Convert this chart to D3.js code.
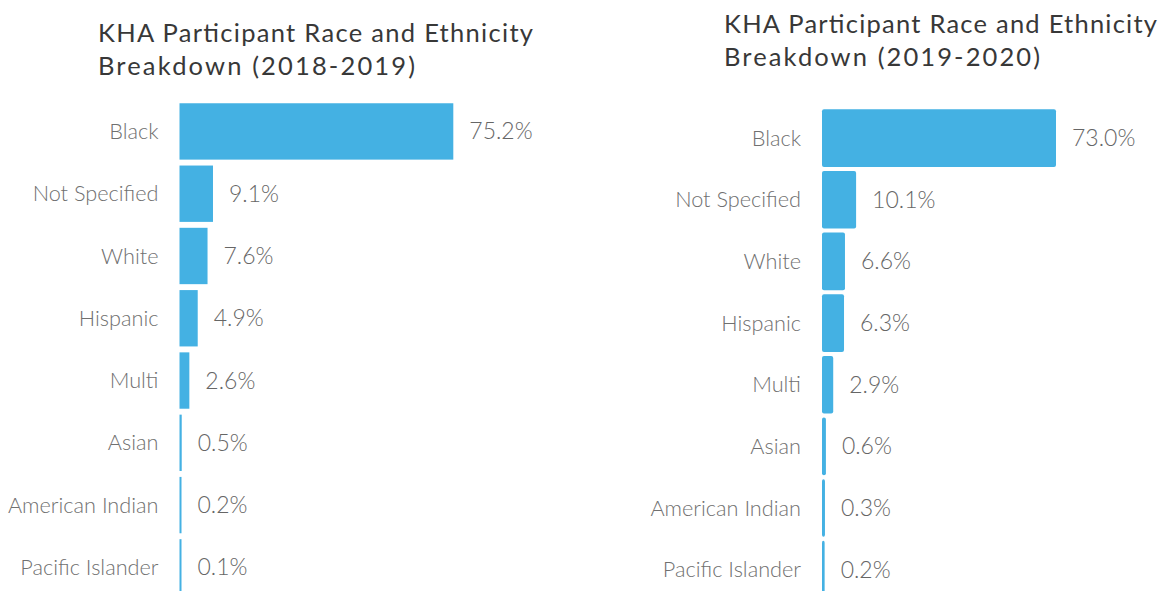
<!DOCTYPE html>
<html>
<head>
<meta charset="utf-8">
<script src="https://cdn.jsdelivr.net/npm/d3@7"></script>
<style>
  body { margin: 0; background: #fff; }
  svg { display: block; font-family: Lato, "Open Sans", sans-serif; }
</style>
</head>
<body>
<script>
var categories = ["Black", "Not Specified", "White", "Hispanic", "Multi", "Asian", "American Indian", "Pacific Islander"];
var values2018 = [75.2, 9.1, 7.6, 4.9, 2.6, 0.5, 0.2, 0.1];
var values2020 = [73.0, 10.1, 6.6, 6.3, 2.9, 0.6, 0.3, 0.2];
var titles = [
  ["KHA Participant Race and Ethnicity", "Breakdown (2018-2019)"],
  ["KHA Participant Race and Ethnicity", "Breakdown (2019-2020)"]
];

var W = 1165, H = 591;
var barColor = "#44b1e3";

var svg = d3.select("body").append("svg")
    .attr("width", W)
    .attr("height", H);

function panel(opt) {
  var g = svg.append("g");

  var y = d3.scaleBand()
      .domain(categories)
      .range(opt.yRange)
      .paddingInner(opt.pad)
      .paddingOuter(opt.pad / 2);

  var x = d3.scaleLinear()
      .domain([0, d3.max(opt.values)])
      .range([opt.x0 + opt.minW, opt.x1]);

  var data = categories.map(function (c, i) { return { cat: c, v: opt.values[i] }; });

  // title, two lines stretched to the widths in the original
  g.selectAll("text.title")
      .data(opt.title)
      .enter().append("text")
      .attr("class", "title")
      .attr("x", opt.titleX)
      .attr("y", function (d, i) { return opt.titleY + i * 33.3; })
      .attr("fill", "#383838")
      .attr("textLength", function (d, i) { return opt.titleW[i]; })
      .attr("lengthAdjust", "spacing")
      .style("font-size", "25.5px")
      .text(function (d) { return d; });

  g.selectAll("rect.bar")
      .data(data)
      .enter().append("rect")
      .attr("class", "bar")
      .attr("x", opt.x0)
      .attr("y", function (d) { return y(d.cat); })
      .attr("width", function (d) { return Math.max(2, x(d.v) - opt.x0); })
      .attr("height", y.bandwidth())
      .attr("rx", opt.rx)
      .attr("fill", barColor);

  // category labels
  g.selectAll("text.cat")
      .data(data)
      .enter().append("text")
      .attr("class", "cat")
      .attr("x", opt.x0 - 21)
      .attr("y", function (d) { return y(d.cat) + y.bandwidth() / 2; })
      .attr("dy", "0.35em")
      .attr("text-anchor", "end")
      .attr("fill", "#707070")
      .style("font-size", "21.7px")
      .style("font-weight", 300)
      .text(function (d) { return d.cat; });

  // value labels
  g.selectAll("text.val")
      .data(data)
      .enter().append("text")
      .attr("class", "val")
      .attr("x", function (d) { return Math.max(opt.x0 + 2, x(d.v)) + 16; })
      .attr("y", function (d) { return y(d.cat) + y.bandwidth() / 2; })
      .attr("dy", "0.35em")
      .attr("fill", "#666")
      .style("font-size", "23px")
      .style("font-weight", 300)
      .text(function (d) { return d.v.toFixed(1) + "%"; });
}

panel({
  values: values2018, title: titles[0], titleW: [435, 317],
  titleX: 98, titleY: 41.7,
  x0: 179.5, x1: 453.3, minW: 0.4,
  yRange: [100.3, 598.5], pad: 0.095, rx: 0
});

panel({
  values: values2020, title: titles[1], titleW: [433, 316],
  titleX: 724, titleY: 32.8,
  x0: 822, x1: 1056, minW: 2,
  yRange: [107.3, 600.5], pad: 0.065, rx: 2
});
</script>
</body>
</html>
